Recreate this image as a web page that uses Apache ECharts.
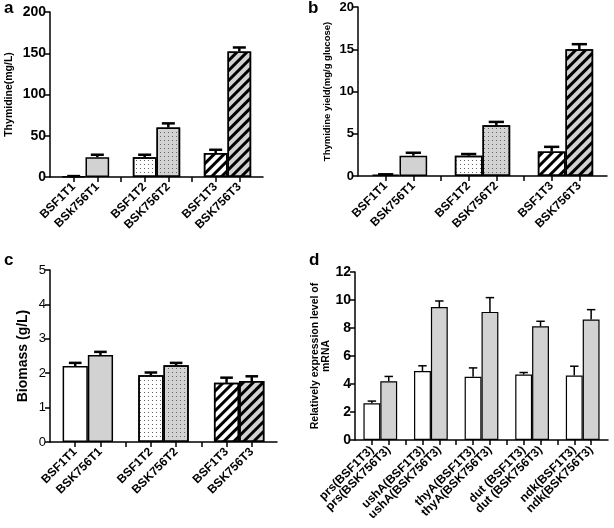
<!DOCTYPE html>
<html><head><meta charset="utf-8">
<script src="https://cdn.jsdelivr.net/npm/echarts@6/dist/echarts.min.js"></script>
<style>html,body{margin:0;padding:0;background:#fff}#c{width:614px;height:528px}</style>
</head><body><div id="c"></div>
<script>
// ---------- data ----------
const catsA = ['', 'BSF1T1', 'BSk756T1', '', 'BSF1T2', 'BSK756T2', '', 'BSF1T3', 'BSK756T3', ''];
const valsA = [0.6, 24, 24, 60, 29, 152];
const errsA = [0.5, 3, 3, 5, 4, 5];

const catsB = ['', 'BSF1T1', 'BSk756T1', '', 'BSF1T2', 'BSK756T2', '', 'BSF1T3', 'BSK756T3', ''];
const valsB = [0.15, 2.4, 2.4, 6.0, 2.9, 15.0];
const errsB = [0.05, 0.35, 0.2, 0.4, 0.55, 0.6];

const catsC = ['', 'BSF1T1', 'BSK756T1', '', 'BSF1T2', 'BSK756T2', '', 'BSF1T3', 'BSK756T3', ''];
const valsC = [2.21, 2.53, 1.94, 2.23, 1.72, 1.77];
const errsC = [0.09, 0.09, 0.08, 0.07, 0.15, 0.14];

const catsD = ['', 'prs(BSF1T3)', 'prs(BSK756T3)', '', 'ushA(BSF1T3)', 'ushA(BSK756T3)', '',
  'thyA(BSF1T3)', 'thyA(BSK756T3)', '', 'dut (BSF1T3)', 'dut (BSK756T3)', '',
  'ndk(BSF1T3)', 'ndk(BSK756T3)', ''];
const valsD = [2.62, 4.2, 4.92, 9.5, 4.51, 9.15, 4.68, 8.12, 4.61, 8.6];
const errsD = [0.16, 0.34, 0.38, 0.43, 0.64, 1.02, 0.14, 0.36, 0.66, 0.71];

// ---------- styles ----------
const FONT = 'Liberation Sans, Arial, sans-serif';
const GRAY = '#d2d2d2';
const stripes = { symbol: 'rect', symbolSize: 1, dashArrayX: [1, 0], dashArrayY: [2.8, 3.2], rotation: -Math.PI / 4, color: '#000' };
const dots = { symbol: 'rect', symbolSize: 1, dashArrayX: [1, 3], dashArrayY: [1, 3], color: '#666' };
const patABC = [
  { color: '#fff' }, { color: GRAY },
  { color: '#fff', decal: dots }, { color: GRAY, decal: dots },
  { color: '#fff', decal: stripes }, { color: GRAY, decal: stripes }
];

function positions(cats) { return cats.map((c, i) => c ? i : -1).filter(i => i >= 0); }

function barData(cats, vals, styleFn, bw) {
  const pos = positions(cats);
  const out = cats.map(() => null);
  pos.forEach((p, k) => {
    out[p] = { value: vals[k], itemStyle: Object.assign({ borderColor: '#000', borderWidth: bw }, styleFn(k)) };
  });
  return out;
}
function errData(cats, vals, errs) {
  return positions(cats).map((p, k) => [p, vals[k], errs[k]]);
}
function errRender(lw, frac) {
  return function (params, api) {
    const x = api.value(0), y = api.value(1), e = api.value(2);
    const p0 = api.coord([x, y]);
    const p1 = api.coord([x, y + e]);
    const w = api.size([1, 0])[0] * frac;
    return { type: 'group', children: [
      { type: 'line', shape: { x1: p0[0], y1: p0[1], x2: p1[0], y2: p1[1] }, style: { stroke: '#000', lineWidth: lw } },
      { type: 'line', shape: { x1: p1[0] - w / 2, y1: p1[1], x2: p1[0] + w / 2, y2: p1[1] }, style: { stroke: '#000', lineWidth: lw } }
    ] };
  };
}

function xAxisFor(gi, cats, fs) {
  const n = cats.length;
  return {
    type: 'category', gridIndex: gi, data: cats, boundaryGap: false,
    axisLine: { lineStyle: { color: '#000', width: 1.5 } },
    axisTick: { length: 5, lineStyle: { color: '#000', width: 1.5 }, interval: (i) => i > 0 && i < n - 1 },
    axisLabel: { interval: 0, rotate: 45, margin: 8, color: '#000', fontFamily: FONT, fontWeight: 'bold', fontSize: fs },
    splitLine: { show: false }
  };
}
function yAxisFor(gi, max, interval, name, nameGap, nameFs, nameW, labFs, labW) {
  return {
    type: 'value', gridIndex: gi, min: 0, max: max, interval: interval,
    name: name, nameLocation: 'middle', nameRotate: 90, nameGap: nameGap,
    nameTextStyle: { color: '#000', fontFamily: FONT, fontWeight: nameW, fontSize: nameFs, lineHeight: nameFs },
    axisLine: { show: true, lineStyle: { color: '#000', width: 1.5 } },
    axisTick: { show: true, length: 5, lineStyle: { color: '#000', width: 1.5 } },
    axisLabel: { color: '#000', fontFamily: FONT, fontWeight: labW, fontSize: labFs, margin: 4 },
    splitLine: { show: false }
  };
}

const letter = (t, l, tp) => ({ text: t, left: l, top: tp, padding: 0,
  textStyle: { fontFamily: FONT, fontWeight: 'bold', fontSize: 17, color: '#000' } });

const option = {
  backgroundColor: '#fff',
  animation: false,
  title: [letter('a', 4, 0), letter('b', 308, 0), letter('c', 4, 252), letter('d', 309, 252)],
  grid: [
    { left: 50, top: 12, width: 213, height: 165 },
    { left: 358, top: 7, width: 249, height: 169 },
    { left: 50, top: 270, width: 227, height: 172 },
    { left: 355, top: 272, width: 253, height: 168 }
  ],
  xAxis: [xAxisFor(0, catsA, 12), xAxisFor(1, catsB, 12), xAxisFor(2, catsC, 12), xAxisFor(3, catsD, 12)],
  yAxis: [
    yAxisFor(0, 200, 50, 'Thymidine(mg/L)', 36, 10.5, 'bold', 14, 'bold'),
    yAxisFor(1, 20, 5, 'Thymidine yield(mg/g glucose)', 26, 9.5, 'bold', 13, 'bold'),
    yAxisFor(2, 5, 1, 'Biomass (g/L)', 20, 14, 'bold', 13, 'normal'),
    yAxisFor(3, 12, 2, 'Relatively expression level of\nmRNA', 20, 10.5, 'bold', 14, 'bold')
  ],
  series: [
    { type: 'bar', xAxisIndex: 0, yAxisIndex: 0, barWidth: '100%', data: barData(catsA, valsA, k => patABC[k], 1.5) },
    { type: 'bar', xAxisIndex: 1, yAxisIndex: 1, barWidth: '100%', data: barData(catsB, valsB, k => patABC[k], 1.5) },
    { type: 'bar', xAxisIndex: 2, yAxisIndex: 2, barWidth: '100%', data: barData(catsC, valsC, k => patABC[k], 1.5) },
    { type: 'bar', xAxisIndex: 3, yAxisIndex: 3, barWidth: '100%', data: barData(catsD, valsD, k => ({ color: k % 2 ? GRAY : '#fff' }), 1.2) },
    { type: 'custom', xAxisIndex: 0, yAxisIndex: 0, z: 5, renderItem: errRender(2.5, 0.55), data: errData(catsA, valsA, errsA) },
    { type: 'custom', xAxisIndex: 1, yAxisIndex: 1, z: 5, renderItem: errRender(2.5, 0.55), data: errData(catsB, valsB, errsB) },
    { type: 'custom', xAxisIndex: 2, yAxisIndex: 2, z: 5, renderItem: errRender(2.5, 0.5), data: errData(catsC, valsC, errsC) },
    { type: 'custom', xAxisIndex: 3, yAxisIndex: 3, z: 5, renderItem: errRender(1.5, 0.5), data: errData(catsD, valsD, errsD) }
  ]
};
const chart = echarts.init(document.getElementById('c'), null, { renderer: 'canvas' });
chart.setOption(option);
</script></body></html>
